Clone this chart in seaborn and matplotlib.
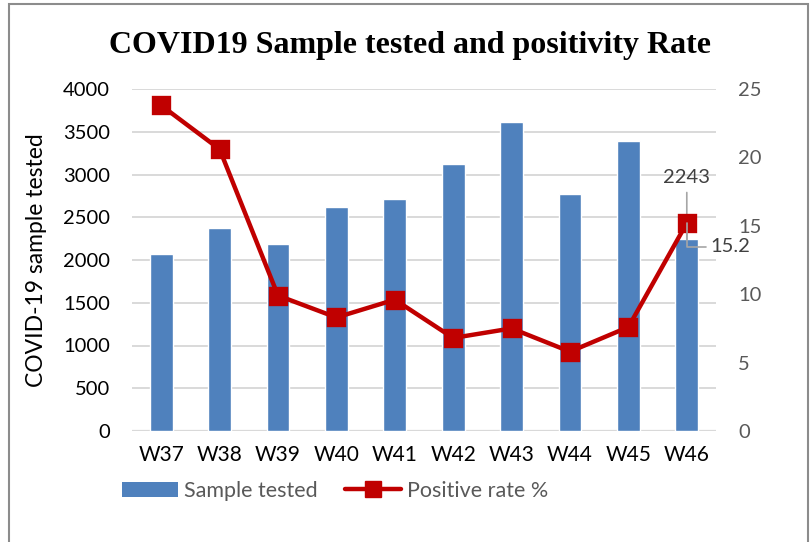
import matplotlib
matplotlib.use("Agg")
import matplotlib.pyplot as plt
import seaborn as sns
import pandas as pd
from matplotlib.lines import Line2D
from matplotlib.patches import Patch, Rectangle

weeks = ["W37", "W38", "W39", "W40", "W41", "W42", "W43", "W44", "W45", "W46"]
samples = [2070, 2371, 2191, 2623, 2710, 3123, 3618, 2768, 3392, 2243]
pos_rate = [23.8, 20.6, 9.9, 8.3, 9.6, 6.8, 7.5, 5.8, 7.6, 15.2]
left_ticks = [0, 500, 1000, 1500, 2000, 2500, 3000, 3500, 4000]
right_ticks = [0, 5, 10, 15, 20, 25]

df = pd.DataFrame({"week": weeks, "samples": samples, "rate": pos_rate})

sns.set_theme(style="white")
plt.rcParams["font.family"] = ["Lato", "DejaVu Sans"]

BAR = "#4F81BD"
RED = "#C00000"
GRID = "#D9D9D9"

fig = plt.figure(figsize=(8.11, 5.42), dpi=100)
ax = fig.add_axes([132 / 811, 1 - 431 / 542, (716 - 132) / 811, (431 - 89) / 542])

sns.barplot(data=df, x="week", y="samples", ax=ax, color=BAR, saturation=1,
            width=0.39, zorder=2)
ax.set_ylim(0, 4000)
ax.set_yticks(left_ticks)
ax.set_xlim(-0.5, len(weeks) - 0.5)
ax.yaxis.grid(True, color=GRID, linewidth=1.4, zorder=0)
ax.set_axisbelow(True)
for s in ax.spines.values():
    s.set_visible(False)
ax.axhline(0, color=GRID, linewidth=1.6, zorder=1)
ax.set_xlabel("")
ax.set_ylabel("COVID-19 sample tested", fontsize=16.5, color="black", labelpad=11)
ax.tick_params(axis="y", length=0, pad=16, labelsize=14.5, labelcolor="black")
ax.tick_params(axis="x", length=0, pad=10, labelsize=15, labelcolor="black")

ax2 = ax.twinx()
sns.pointplot(data=df, x="week", y="rate", ax=ax2, color=RED, markers="s",
              errorbar=None, markersize=12, linewidth=3.2)
ax2.set_ylim(0, 25)
ax2.set_yticks(right_ticks)
ax2.set_xlim(-0.5, len(weeks) - 0.5)
ax2.set_ylabel("")
ax2.set_xlabel("")
for s in ax2.spines.values():
    s.set_visible(False)
ax2.tick_params(axis="y", length=0, pad=16, labelsize=14.5, labelcolor="#595959")
ax2.grid(False)

# data labels for last point
last = len(weeks) - 1
ax.annotate(str(samples[last]), xy=(last, samples[last]), xytext=(0, 38),
            textcoords="offset points", ha="center", va="bottom",
            fontsize=14.5, color="#404040",
            arrowprops=dict(arrowstyle="-", color="#A6A6A6", lw=1.2,
                            shrinkA=2, shrinkB=0))
ax2.annotate(f"{pos_rate[last]:.1f}", xy=(last, pos_rate[last]), xytext=(17, -17),
             textcoords="offset points", ha="left", va="center",
             fontsize=14.5, color="#404040",
             arrowprops=dict(arrowstyle="-", color="#A6A6A6", lw=1.2,
                             shrinkA=1, shrinkB=0,
                             connectionstyle="angle,angleA=0,angleB=90,rad=0"))

fig.text(410 / 811, 1 - 45 / 542, "COVID19 Sample tested and positivity Rate",
         ha="center", va="center", fontsize=23, fontweight="bold",
         family=["Liberation Serif", "DejaVu Serif"], color="black")

handles = [Patch(facecolor=BAR, edgecolor="none"),
           Line2D([0], [0], color=RED, lw=3.2, marker="s", markersize=12)]
leg = fig.legend(handles, ["Sample tested", "Positive rate %"], ncol=2,
                 loc="center", bbox_to_anchor=(335 / 811, 1 - 491 / 542),
                 frameon=False, fontsize=15.5, handlelength=2.6,
                 handletextpad=0.25, columnspacing=1.3, borderpad=0)
for t in leg.get_texts():
    t.set_color("#595959")

fig.add_artist(Rectangle((9 / 811, -0.05), (808 - 9) / 811, 1.05 - 4 / 542,
                         transform=fig.transFigure, fill=False,
                         edgecolor="#8C8C8C", linewidth=1.5))

fig.savefig("out.png", dpi=100)
